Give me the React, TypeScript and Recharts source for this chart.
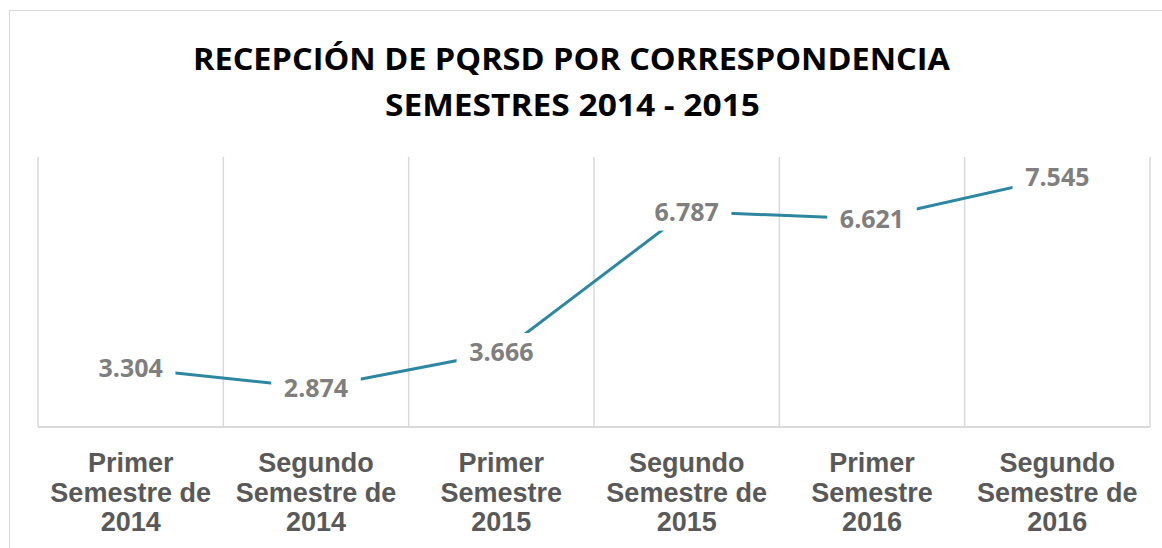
import { LineChart, Line, XAxis, YAxis, CartesianGrid, LabelList } from 'recharts'

const categories = [
  'Primer\nSemestre de\n2014',
  'Segundo\nSemestre de\n2014',
  'Primer\nSemestre\n2015',
  'Segundo\nSemestre de\n2015',
  'Primer\nSemestre\n2016',
  'Segundo\nSemestre de\n2016',
]
const values = [3.304, 2.874, 3.666, 6.787, 6.621, 7.545]
const valueLabels = ['3.304', '2.874', '3.666', '6.787', '6.621', '7.545']
const titleLines = ['RECEPCIÓN DE PQRSD POR CORRESPONDENCIA', 'SEMESTRES 2014 - 2015']

const data = categories.map((name, i) => ({ name, value: values[i], label: valueLabels[i] }))

const W = 1162
const H = 548
const GRID = '#d9d9d9'
const LINE = '#2e87a0'

/* ── multi-line category tick ─────────────────────── */
function CategoryTick({ x, y, payload }: any) {
  const lines = String(payload.value).split('\n')
  return (
    <text
      x={x}
      textAnchor="middle"
      fill="#595959"
      fontFamily="'Liberation Sans', Arial, sans-serif"
      fontWeight={700}
      fontSize={27}
    >
      {lines.map((l, i) => (
        <tspan key={i} x={x} y={y + 45 + i * 29.5}>{l}</tspan>
      ))}
    </text>
  )
}

/* ── value label with white box over the line ─────── */
function ValueLabel({ x, y, value }: any) {
  const fs = 25
  const txt = String(value)
  const w = txt.length * fs * 0.54 + 22
  const h = 38
  return (
    <g>
      <rect x={x - w / 2} y={y - h / 2} width={w} height={h} fill="#fff" />
      <text
        x={x}
        y={y + 9}
        textAnchor="middle"
        fill="#7f7f7f"
        fontFamily="'Open Sans', sans-serif"
        fontWeight={700}
        fontSize={fs}
      >
        {txt}
      </text>
    </g>
  )
}

export default function App() {
  return (
    <div style={{ position: 'absolute', left: 0, top: 0, width: W, height: H, overflow: 'hidden', background: '#fff' }}>
      <div style={{ position: 'absolute', left: 9, top: 10, width: 1300, height: 700, border: `1.5px solid ${GRID}` }} />
      <svg width={W} height={130} style={{ position: 'absolute', left: 0, top: 0 }}>
        <text x={571.5} y={70} textAnchor="middle" fontFamily="'Open Sans', sans-serif" fontWeight={700} fontSize={30}
          textLength={757} lengthAdjust="spacingAndGlyphs" fill="#000">
          {titleLines[0]}
        </text>
        <text x={572.5} y={116} textAnchor="middle" fontFamily="'Open Sans', sans-serif" fontWeight={700} fontSize={30}
          textLength={375} lengthAdjust="spacingAndGlyphs" fill="#000">
          {titleLines[1]}
        </text>
      </svg>
      <div style={{ position: 'absolute', left: 0, top: 0 }}>
        <LineChart width={W} height={H} data={data} margin={{ top: 157, right: 12, left: 38, bottom: 0 }}>
          <CartesianGrid
            horizontal={false}
            stroke={GRID}
            strokeWidth={1.5}
            verticalCoordinatesGenerator={({ offset }: any) =>
              Array.from({ length: categories.length + 1 }, (_, i) => offset.left + (i * offset.width) / categories.length)
            }
          />
          <XAxis
            dataKey="name"
            scale="band"
            axisLine={{ stroke: GRID, strokeWidth: 2 }}
            tickLine={false}
            tickSize={0}
            tickMargin={0}
            interval={0}
            tick={<CategoryTick />}
            height={121}
          />
          <YAxis hide domain={[2, 8]} />
          <Line
            type="linear"
            dataKey="value"
            stroke={LINE}
            strokeWidth={3}
            dot={false}
            activeDot={false}
            isAnimationActive={false}
          >
            <LabelList dataKey="label" content={<ValueLabel />} />
          </Line>
        </LineChart>
      </div>
    </div>
  )
}
